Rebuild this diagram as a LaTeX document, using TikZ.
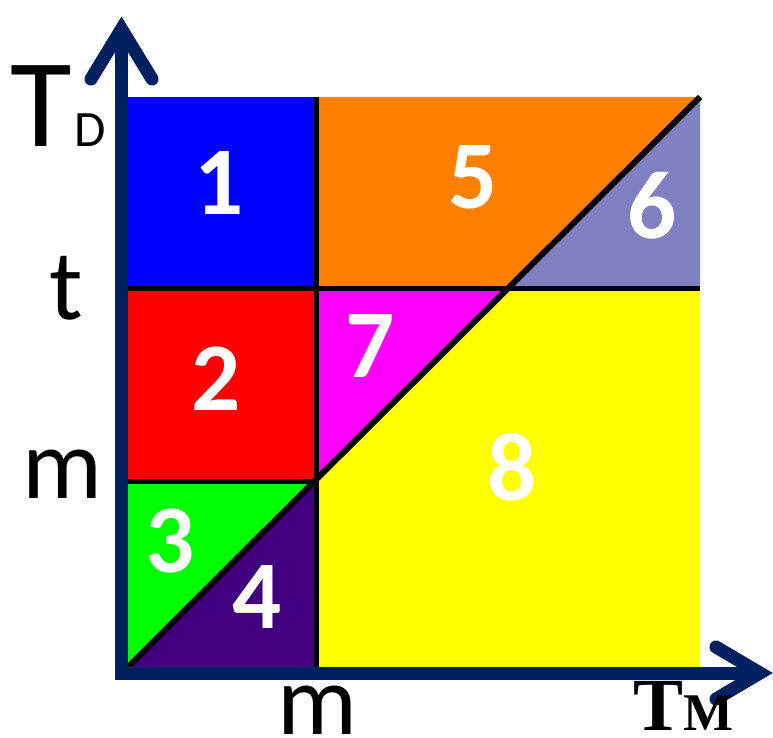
\documentclass[tikz,border=0pt]{standalone}
\usepackage{fontspec}
\setmainfont{Carlito}
\newfontfamily\tmfont{Liberation Serif}
\definecolor{navy}{HTML}{002060}
\definecolor{cblue}{HTML}{0000FF}
\definecolor{corange}{HTML}{FF8000}
\definecolor{clav}{HTML}{8080C0}
\definecolor{cred}{HTML}{FF0000}
\definecolor{cmag}{HTML}{FF00FF}
\definecolor{cyel}{HTML}{FFFF00}
\definecolor{cgreen}{HTML}{00FF00}
\definecolor{cpurp}{HTML}{400080}
\begin{document}
\begin{tikzpicture}[x=1pt,y=-1pt,
  num/.style={text=white,font=\fontsize{97}{97}\selectfont\bfseries,inner sep=0pt},
  lab/.style={text=black,font=\fontsize{100}{100}\selectfont,inner sep=0pt},
  divider/.style={black,line width=5pt},
  axis/.style={navy,line width=13pt}]
\useasboundingbox (0,0) rectangle (773,737);
% key coordinates
\coordinate (BL) at (128,667);
\coordinate (TR) at (700,97);
\coordinate (D1) at (314.7,481);
\coordinate (D2) at (508.3,288);
% regions
\fill[cblue] (128,97) rectangle (316,288);
\fill[corange] (316,97) -- (TR) -- (D2) -- (316,288) -- cycle;
\fill[clav] (TR) -- (700,288) -- (D2) -- cycle;
\fill[cred] (128,288) rectangle (316,481);
\fill[cmag] (316,288) -- (D2) -- (316,479.6) -- cycle;
\fill[cyel] (316,479.6) -- (D2) -- (700,288) -- (700,667) -- (316,667) -- cycle;
\fill[cgreen] (128,481) -- (D1) -- (BL) -- cycle;
\fill[cpurp] (BL) -- (D1) -- (316,481) -- (316,667) -- cycle;
% dividers
\draw[divider] (128,288) -- (700,288);
\draw[divider] (128,481) -- (316,481);
\draw[divider] (316,97) -- (316,667);
\draw[divider,line width=6pt] (BL) -- (TR);
% axes
\draw[axis,line join=miter] (121.5,30) -- (121.5,673) -- (760,673);
\draw[axis,line cap=round,line join=miter] (91,79) -- (121.5,29) -- (152,79);
\draw[axis,line cap=round,line join=miter] (716,647) -- (760,673) -- (716,699);
% region numbers
\node[num] (n1) at (219,183) {1};
\node[num] (n5) at (473,177) {5};
\node[num] (n6) at (652,206) {6};
\node[num] (n2) at (216,379) {2};
\node[num] (n7) at (370,346) {7};
\node[num] (n8) at (512,467) {8};
\node[num] (n3) at (170,541) {3};
\node[num] (n4) at (257,597) {4};
% axis labels
\node[lab,anchor=base west] (td) at (10,146) {\fontsize{126}{126}\selectfont T\hspace{3pt}\fontsize{51}{51}\selectfont D};
\node[lab,anchor=base] (tl) at (66,319) {t};
\node[lab,anchor=base] (ml) at (62,498) {m};
\node[lab,anchor=base] (mb) at (317,734) {m};
\node[lab,anchor=base west,font=\tmfont\bfseries\fontsize{75}{75}\selectfont] (tm) at (633,730) {T\fontsize{53}{53}\selectfont M};
\end{tikzpicture}
\end{document}
